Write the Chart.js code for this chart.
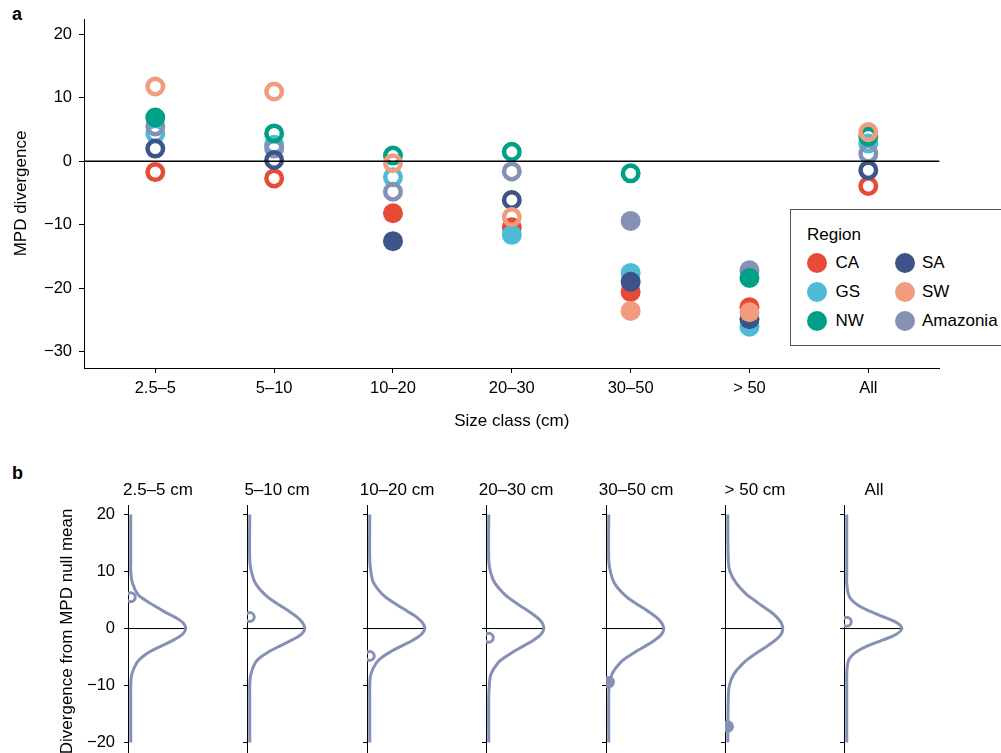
<!DOCTYPE html>
<html>
<head>
<meta charset="utf-8">
<script src="https://cdn.jsdelivr.net/npm/chart.js@4"></script>
<style>
  body { margin: 0; width: 1001px; height: 753px; overflow: hidden; background: #fff; position: relative;
         font-family: 'Liberation Sans', Arial, sans-serif; color: #000; }
  canvas { position: absolute; }
  .panel-tag { position: absolute; font-weight: bold; font-size: 18px; line-height: 18px; }
  #legend { position: absolute; left: 790px; top: 209px; width: 240px; height: 135px;
            border: 1.5px solid #555; background: #fff; font-size: 17px; }
  #legend .title { position: absolute; left: 16px; top: 15px; line-height: 20px; }
  #legend .dot { position: absolute; width: 20px; height: 20px; border-radius: 50%; }
  #legend .lab { position: absolute; line-height: 20px; }
</style>
</head>
<body>
<div class="panel-tag" style="left:12px; top:5px;">a</div>
<div class="panel-tag" style="left:12px; top:464px;">b</div>
<canvas id="chart-a" width="1001" height="460" style="left:0; top:0;"></canvas>
<div id="legend"><div class="title">Region</div></div>

<script>
// ---- data ----
const sizeClasses = ['2.5–5', '5–10', '10–20', '20–30', '30–50', '> 50', 'All'];
const panelTitles = ['2.5–5 cm', '5–10 cm', '10–20 cm', '20–30 cm', '30–50 cm', '> 50 cm', 'All'];
const regions = ['CA', 'GS', 'NW', 'SA', 'SW', 'Amazonia'];

// MPD divergence per size class
const caValues       = [-1.7, -2.7,  -8.2, -10.4, -20.6, -23.0, -3.9];
const gsValues       = [ 4.4,  2.6,  -2.5, -11.6, -17.6, -26.1,  2.8];
const nwValues       = [ 6.9,  4.4,   0.9,   1.5,  -1.9, -18.4,  3.9];
const saValues       = [ 2.0,  0.2, -12.6,  -6.1, -19.0, -24.9, -1.4];
const swValues       = [11.8, 11.0,  -0.3,  -8.8, -23.6, -23.8,  4.6];
const amazoniaValues = [ 5.5,  2.0,  -4.8,  -1.6,  -9.4, -17.2,  1.2];

// filled symbol = significant
const caFilled       = [false, false, true,  true,  true,  true,  false];
const gsFilled       = [false, false, false, true,  true,  true,  false];
const nwFilled       = [true,  false, false, false, false, true,  false];
const saFilled       = [false, false, true,  false, true,  true,  false];
const swFilled       = [false, false, false, false, true,  true,  false];
const amazoniaFilled = [false, false, false, false, true,  true,  false];

// null distributions (relative density) at these divergence levels, panel b
const nullLevels = [20, 12, 10, 8, 6, 5, 4, 3, 2, 1, 0, -1, -2, -3, -4, -5, -6, -8, -10, -12, -20];
const nullDensity = [
  [0, 0,    0,    0.03, 0.13, 0.26, 0.43, 0.60, 0.80, 0.95, 1, 0.94, 0.78, 0.57, 0.36, 0.21, 0.11, 0.02, 0,    0,    0],
  [0, 0,    0.03, 0.10, 0.27, 0.40, 0.56, 0.72, 0.86, 0.96, 1, 0.94, 0.77, 0.56, 0.36, 0.20, 0.10, 0.02, 0,    0,    0],
  [0, 0,    0.02, 0.07, 0.23, 0.36, 0.52, 0.69, 0.85, 0.96, 1, 0.94, 0.79, 0.59, 0.39, 0.23, 0.12, 0.02, 0,    0,    0],
  [0, 0,    0.03, 0.11, 0.29, 0.42, 0.57, 0.73, 0.87, 0.97, 1, 0.95, 0.82, 0.64, 0.46, 0.30, 0.17, 0.04, 0.01, 0,    0],
  [0, 0,    0.03, 0.10, 0.27, 0.40, 0.56, 0.72, 0.86, 0.96, 1, 0.96, 0.84, 0.68, 0.50, 0.34, 0.21, 0.06, 0.01, 0,    0],
  [0, 0.01, 0.04, 0.15, 0.34, 0.48, 0.62, 0.77, 0.89, 0.97, 1, 0.97, 0.87, 0.73, 0.57, 0.42, 0.29, 0.11, 0.03, 0.01, 0],
  [0, 0,    0,    0,    0.03, 0.09, 0.22, 0.43, 0.68, 0.91, 1, 0.90, 0.66, 0.39, 0.19, 0.07, 0.02, 0,    0,    0,    0]
];

// ---- styling ----
const regionColors = ['#E64B35', '#4DBBD5', '#00A087', '#3C5488', '#F39B7F', '#8491B4'];
const regionValues = [caValues, gsValues, nwValues, saValues, swValues, amazoniaValues];
const regionFilled = [caFilled, gsFilled, nwFilled, saFilled, swFilled, amazoniaFilled];
const stackOrder = [6, 5, 2, 3, 1, 4]; // higher = drawn further below

Chart.defaults.font.family = "'Liberation Sans', Arial, sans-serif";
Chart.defaults.color = '#000';
Chart.defaults.animation = false;

function pointStyleFor(color, filled, big) {
  const rFill = big ? 10 : 6.2, rRing = big ? 7.75 : 4.5, ring = big ? 4.5 : 3;
  return {
    pointRadius: ctx => filled[ctx.dataIndex] ? rFill : rRing,
    pointHoverRadius: ctx => filled[ctx.dataIndex] ? rFill : rRing,
    pointBorderWidth: ctx => filled[ctx.dataIndex] ? 0 : ring,
    pointHoverBorderWidth: ctx => filled[ctx.dataIndex] ? 0 : ring,
    pointBackgroundColor: ctx => filled[ctx.dataIndex] ? color : 'rgba(0,0,0,0)',
    pointBorderColor: color
  };
}

const signedTick = v => v < 0 ? '\u2212' + Math.abs(v) : String(v);

// ---- panel a ----
const datasetsA = regions.map((name, i) => Object.assign({
  label: name,
  data: regionValues[i].map((v, k) => ({ x: k, y: v })),
  order: stackOrder[i]
}, pointStyleFor(regionColors[i], regionFilled[i], true)));

datasetsA.push({
  type: 'line',
  label: 'zero',
  data: [{ x: -0.6, y: 0 }, { x: 6.6, y: 0 }],
  borderColor: '#000',
  borderWidth: 1.6,
  pointRadius: 0,
  order: 0
});

new Chart(document.getElementById('chart-a'), {
  type: 'scatter',
  data: { datasets: datasetsA },
  options: {
    responsive: false,
    devicePixelRatio: 1,
    layout: { padding: { left: 0, top: 19, right: 61.4, bottom: 22 } },
    plugins: { legend: { display: false }, tooltip: { enabled: false } },
    scales: {
      x: {
        type: 'linear', min: -0.6, max: 6.6,
        afterFit: s => { s.height = 70; },
        ticks: {
          stepSize: 1, includeBounds: false, autoSkip: false, maxRotation: 0,
          padding: 6, font: { size: 16.5 },
          callback: v => sizeClasses[v]
        },
        grid: { drawOnChartArea: false, tickLength: 5, color: '#000' },
        border: { display: true, color: '#000', width: 1 },
        title: { display: true, text: 'Size class (cm)', font: { size: 17 }, padding: { top: 0, bottom: 6 } }
      },
      y: {
        min: -32.6, max: 22.44,
        afterFit: s => { s.width = 84; },
        ticks: { stepSize: 10, includeBounds: false, padding: 7, font: { size: 16.5 }, callback: signedTick },
        grid: { drawOnChartArea: false, tickLength: 5, color: '#000' },
        border: { display: true, color: '#000', width: 1 },
        title: { display: true, text: 'MPD divergence', font: { size: 17 }, padding: { top: 11, bottom: 0 } }
      }
    }
  }
});

// legend
const legend = document.getElementById('legend');
regions.forEach((name, k) => {
  const col = Math.floor(k / 3), row = k % 3;
  const top = 42.8 + row * 29.3;
  const dot = document.createElement('div');
  dot.className = 'dot';
  dot.style.background = regionColors[k];
  dot.style.left = (15.5 + col * 88) + 'px';
  dot.style.top = top + 'px';
  const lab = document.createElement('div');
  lab.className = 'lab';
  lab.textContent = name;
  lab.style.left = (44.5 + col * 86.5) + 'px';
  lab.style.top = top + 'px';
  legend.appendChild(dot);
  legend.appendChild(lab);
});

// ---- panel b ----
function buildPanel(i) {
  const first = i === 0;
  const axisX = 128 + i * 119.4;
  const yw = first ? 128 : 40;
  const canvas = document.createElement('canvas');
  canvas.width = yw * 2 + 60;
  canvas.height = 310;
  canvas.style.left = (axisX - yw) + 'px';
  canvas.style.top = '460px';
  document.body.appendChild(canvas);

  const filled = [amazoniaFilled[i]];

  new Chart(canvas, {
    type: 'scatter',
    data: {
      datasets: [
        Object.assign({
          label: 'Amazonia',
          data: [{ x: 0, y: amazoniaValues[i] }],
          order: 0
        }, pointStyleFor(regionColors[5], filled, false)),
        {
          type: 'line',
          label: 'null',
          data: nullLevels.map((y, k) => ({ x: nullDensity[i][k], y: y })),
          borderColor: '#8491B4',
          borderWidth: 3,
          tension: 0.4,
          pointRadius: 0,
          order: 1
        },
        {
          type: 'line',
          label: 'zero',
          data: [{ x: -0.05, y: 0 }, { x: 1, y: 0 }],
          borderColor: '#000',
          borderWidth: 1,
          pointRadius: 0,
          order: 2
        }
      ]
    },
    options: {
      responsive: false,
      devicePixelRatio: 1,
      layout: { padding: { left: 0, top: 0, right: 0, bottom: 12.6 } },
      plugins: {
        legend: { display: false },
        tooltip: { enabled: false },
        title: { display: true, text: panelTitles[i], font: { size: 17, weight: 'normal' },
                 color: '#000', padding: { top: 20, bottom: 5 } }
      },
      scales: {
        x: { type: 'linear', min: -0.05, max: 1.04, display: false },
        y: {
          min: -22.61, max: 21.6,
          afterFit: s => { s.width = yw; s.paddingTop = 0; s.paddingBottom = 0; },
          ticks: { display: first, stepSize: 10, includeBounds: false, padding: 9, font: { size: 16.5 },
                   callback: signedTick },
          grid: { drawOnChartArea: false, tickLength: 4, color: '#000' },
          border: { display: true, color: '#000', width: 1 },
          title: { display: first, text: 'Divergence from MPD null mean', font: { size: 17 },
                   padding: { top: 57, bottom: 0 } }
        },
        // empty right-hand spacer so the panel title sits centred over the plot
        spacer: {
          type: 'linear', position: 'right', display: true,
          afterFit: s => { s.width = yw; s.paddingTop = 0; s.paddingBottom = 0; },
          ticks: { display: false },
          grid: { display: false },
          border: { display: false }
        }
      }
    }
  });
}

panelTitles.forEach((t, i) => buildPanel(i));
</script>
</body>
</html>
